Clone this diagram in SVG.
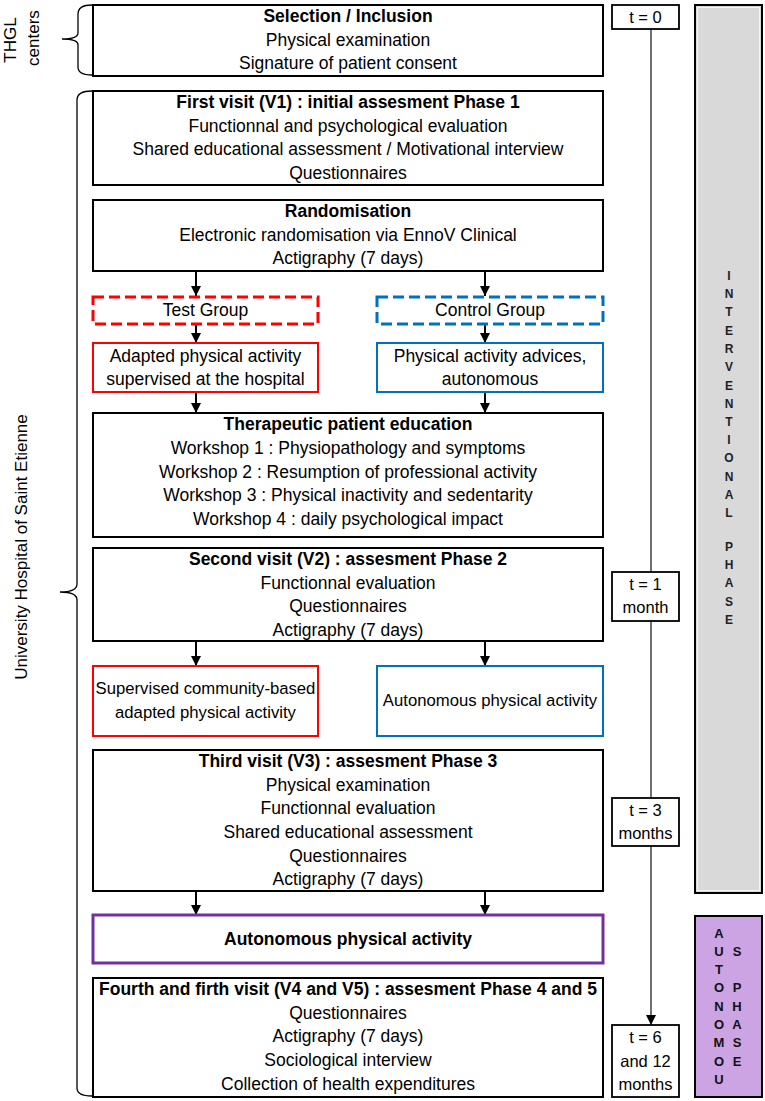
<svg xmlns="http://www.w3.org/2000/svg" width="765" height="1101" viewBox="0 0 765 1101">
<style>
text{font-family:'Liberation Sans',Arial,sans-serif;font-size:17.5px;text-anchor:middle;fill:#000}
.b{font-weight:bold}
.t{font-size:16.5px}
.s{font-size:16.7px}
.side{font-size:17px}
.box{fill:#fff;stroke:#000;stroke-width:2}
.red{fill:#fff;stroke:#FF0000;stroke-width:2}
.blue{fill:#fff;stroke:#0070C0;stroke-width:2}
.dred{fill:#fff;stroke:#FF0000;stroke-width:3;stroke-dasharray:11 5}
.dblue{fill:#fff;stroke:#0070C0;stroke-width:3;stroke-dasharray:11 5}
.purple{fill:#fff;stroke:#7030A0;stroke-width:3}
.tbox{fill:#fff;stroke:#000;stroke-width:1.8}
.arr{stroke:#000;stroke-width:2;fill:none;marker-end:url(#ah)}
.tl{stroke:#404040;stroke-width:1.5;fill:none}
.brace{stroke:#000;stroke-width:1.3;fill:none}
.ph{font-size:12px;font-weight:bold;fill:#222}
.ph2{font-size:13px;font-weight:bold;fill:#111}
</style>
<defs>
<marker id="ah" markerUnits="userSpaceOnUse" markerWidth="12" markerHeight="12" refX="10" refY="5" orient="auto">
<path d="M0,0 L10,5 L0,10 z" fill="#000"/>
</marker>
</defs>

<g id="side-labels">
<path class="brace" d="M92,5 Q78,5 78,14 L78,33 Q78,39 62,39 Q78,39 78,45 L78,67 Q78,75 92,75"/>
<text class="side" transform="translate(16,40) rotate(-90)">THGL</text>
<text class="side" transform="translate(39,38) rotate(-90)">centers</text>
<path class="brace" d="M92,91 Q77,91 77,100 L77,584 Q77,592 60,592 Q77,592 77,600 L77,1088 Q77,1096 92,1096"/>
<text class="side" transform="translate(27,547) rotate(-90)">University Hospital of Saint Etienne</text>
</g>

<g id="connectors">
<path class="arr" d="M196,271 L196,296"/>
<path class="arr" d="M485,271 L485,296"/>
<path class="arr" d="M196,324 L196,343"/>
<path class="arr" d="M485,324 L485,343"/>
<path class="arr" d="M196,392 L196,413"/>
<path class="arr" d="M485,392 L485,413"/>
<path class="arr" d="M196,641 L196,666"/>
<path class="arr" d="M485,641 L485,666"/>
<path class="arr" d="M196,891 L196,915"/>
<path class="arr" d="M485,891 L485,915"/>
<path class="tl" d="M651,29 L651,572"/>
<path class="tl" d="M651,621 L651,798"/>
<path class="tl" d="M651,846 L651,1025" marker-end="url(#ah)"/>
</g>

<g id="selection">
<rect class="box" x="93" y="5" width="510" height="71"/>
<text class="b" x="348" y="22">Selection / Inclusion</text>
<text x="348" y="46">Physical examination</text>
<text x="348" y="69">Signature of patient consent</text>
</g>

<g id="v1">
<rect class="box" x="93" y="91" width="510" height="94"/>
<text class="b" x="348" y="108">First visit (V1) : initial assesment Phase 1</text>
<text x="348" y="132">Functionnal and psychological evaluation</text>
<text x="348" y="155">Shared educational assessment / Motivational interview</text>
<text x="348" y="179">Questionnaires</text>
</g>

<g id="randomisation">
<rect class="box" x="93" y="200" width="510" height="71"/>
<text class="b" x="348" y="217">Randomisation</text>
<text x="348" y="241">Electronic randomisation via EnnoV Clinical</text>
<text x="348" y="264">Actigraphy (7 days)</text>
</g>

<g id="test-group">
<rect class="dred" x="93" y="297" width="225" height="27"/>
<text x="205.5" y="316">Test Group</text>
</g>

<g id="control-group">
<rect class="dblue" x="377" y="297" width="226" height="27"/>
<text x="490" y="316">Control Group</text>
</g>

<g id="adapted-hospital">
<rect class="red" x="93" y="343" width="225" height="49"/>
<text x="205.5" y="362">Adapted physical activity</text>
<text x="205.5" y="385">supervised at the hospital</text>
</g>

<g id="advices">
<rect class="blue" x="377" y="343" width="226" height="49"/>
<text x="490" y="362">Physical activity advices,</text>
<text x="490" y="385">autonomous</text>
</g>

<g id="education">
<rect class="box" x="93" y="413" width="510" height="124"/>
<text class="b" x="348" y="430">Therapeutic patient education</text>
<text x="348" y="454">Workshop 1 : Physiopathology and symptoms</text>
<text x="348" y="478">Workshop 2 : Resumption of professional activity</text>
<text x="348" y="501">Workshop 3 : Physical inactivity and sedentarity</text>
<text x="348" y="525">Workshop 4 : daily psychological impact</text>
</g>

<g id="v2">
<rect class="box" x="93" y="548" width="510" height="93"/>
<text class="b" x="348" y="565">Second visit (V2) : assesment Phase 2</text>
<text x="348" y="589">Functionnal evaluation</text>
<text x="348" y="612">Questionnaires</text>
<text x="348" y="636">Actigraphy (7 days)</text>
</g>

<g id="community">
<rect class="red" x="93" y="666" width="225" height="70"/>
<text class="s" x="205.5" y="694">Supervised community-based</text>
<text class="s" x="205.5" y="718">adapted physical activity</text>
</g>

<g id="autonomous-v2">
<rect class="blue" x="377" y="666" width="226" height="70"/>
<text class="s" x="490" y="706">Autonomous physical activity</text>
</g>

<g id="v3">
<rect class="box" x="93" y="750" width="510" height="141"/>
<text class="b" x="348" y="767">Third visit (V3) : assesment Phase 3</text>
<text x="348" y="791">Physical examination</text>
<text x="348" y="814">Functionnal evaluation</text>
<text x="348" y="838">Shared educational assessment</text>
<text x="348" y="862">Questionnaires</text>
<text x="348" y="885">Actigraphy (7 days)</text>
</g>

<g id="autonomous">
<rect class="purple" x="93" y="915" width="510" height="48"/>
<text class="b" x="348" y="945">Autonomous physical activity</text>
</g>

<g id="v4v5">
<rect class="box" x="93" y="978" width="510" height="119"/>
<text class="b" x="348" y="995">Fourth and firth visit (V4 and V5) : assesment Phase 4 and 5</text>
<text x="348" y="1019">Questionnaires</text>
<text x="348" y="1042">Actigraphy (7 days)</text>
<text x="348" y="1066">Sociological interview</text>
<text x="348" y="1090">Collection of health expenditures</text>
</g>

<g id="t0">
<rect class="tbox" x="612" y="5" width="67" height="24"/>
<text class="t" x="645.5" y="23">t = 0</text>
</g>
<g id="t1">
<rect class="tbox" x="612" y="572" width="67" height="49"/>
<text class="t" x="645.5" y="590">t = 1</text>
<text class="t" x="645.5" y="613">month</text>
</g>
<g id="t3">
<rect class="tbox" x="612" y="798" width="67" height="48"/>
<text class="t" x="645.5" y="816">t = 3</text>
<text class="t" x="645.5" y="839">months</text>
</g>
<g id="t6">
<rect class="tbox" x="612" y="1025" width="67" height="72"/>
<text class="t" x="645.5" y="1043">t = 6</text>
<text class="t" x="645.5" y="1067">and 12</text>
<text class="t" x="645.5" y="1090">months</text>
</g>

<g id="interventional-phase">
<rect x="695" y="5" width="67" height="888" fill="#D9D9D9" stroke="#000" stroke-width="2"/>
<rect x="697.5" y="7.5" width="62" height="883" fill="none" stroke="#F4F4F4" stroke-width="1"/>
<text class="ph" x="729" y="280">I</text>
<text class="ph" x="729" y="298">N</text>
<text class="ph" x="729" y="316">T</text>
<text class="ph" x="729" y="335">E</text>
<text class="ph" x="729" y="353">R</text>
<text class="ph" x="729" y="371">V</text>
<text class="ph" x="729" y="390">E</text>
<text class="ph" x="729" y="408">N</text>
<text class="ph" x="729" y="426">T</text>
<text class="ph" x="729" y="444">I</text>
<text class="ph" x="729" y="462">O</text>
<text class="ph" x="729" y="481">N</text>
<text class="ph" x="729" y="499">A</text>
<text class="ph" x="729" y="517">L</text>
<text class="ph" x="729" y="551">P</text>
<text class="ph" x="729" y="569">H</text>
<text class="ph" x="729" y="587">A</text>
<text class="ph" x="729" y="606">S</text>
<text class="ph" x="729" y="624">E</text>
</g>

<g id="autonomous-phase">
<rect x="695" y="916" width="67" height="181" fill="#CCA3E3" stroke="#000" stroke-width="2"/>
<text class="ph2" x="719" y="938">A</text>
<text class="ph2" x="719" y="956">U</text>
<text class="ph2" x="719" y="974">T</text>
<text class="ph2" x="719" y="992">O</text>
<text class="ph2" x="719" y="1011">N</text>
<text class="ph2" x="719" y="1029">O</text>
<text class="ph2" x="719" y="1047">M</text>
<text class="ph2" x="719" y="1066">O</text>
<text class="ph2" x="719" y="1084">U</text>
<text class="ph2" x="737" y="956">S</text>
<text class="ph2" x="737" y="992">P</text>
<text class="ph2" x="737" y="1011">H</text>
<text class="ph2" x="737" y="1029">A</text>
<text class="ph2" x="737" y="1047">S</text>
<text class="ph2" x="737" y="1066">E</text>
</g>
</svg>
